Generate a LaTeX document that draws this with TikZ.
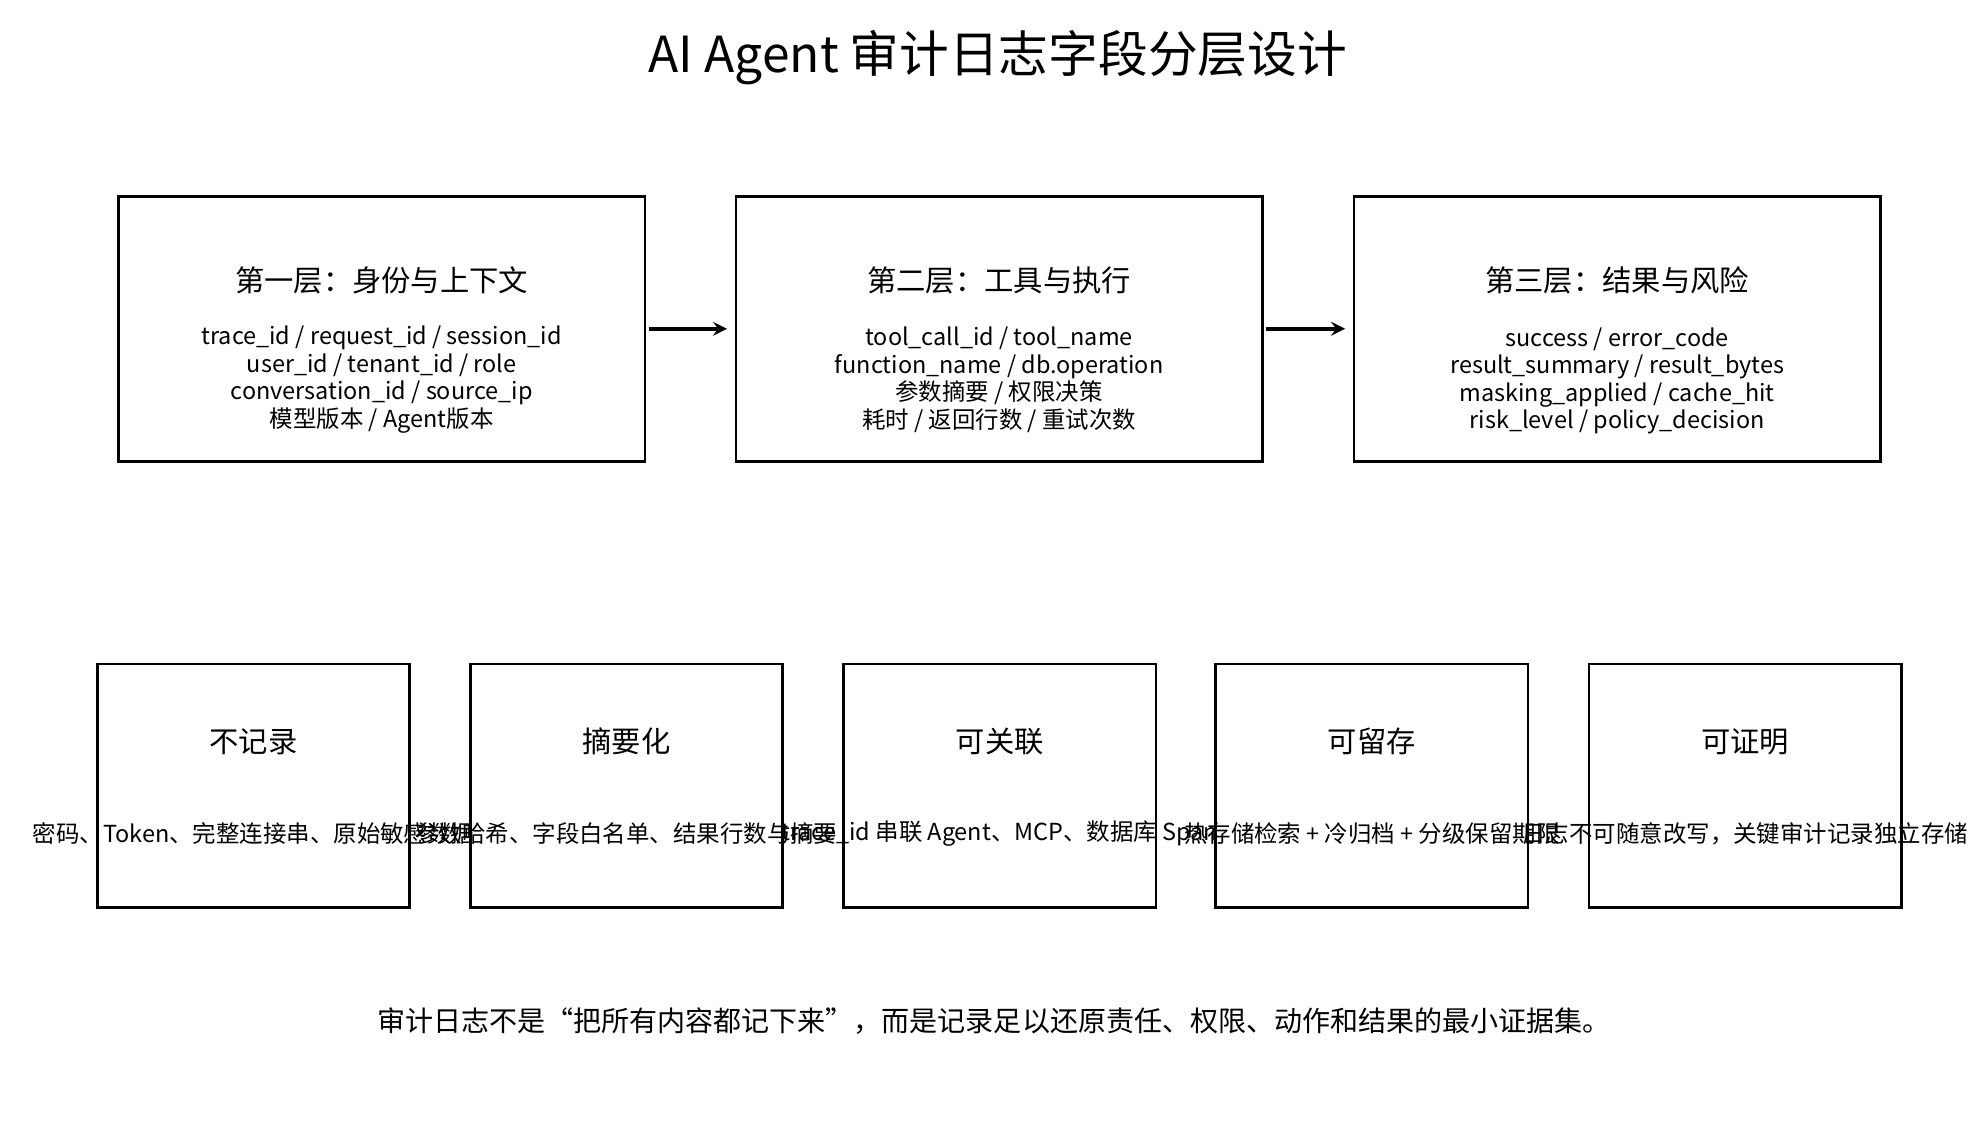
\documentclass[tikz,border=0pt]{standalone}
\usepackage{fontspec}
\setmainfont{Noto Sans CJK SC}
\usetikzlibrary{positioning}
\tikzset{>=stealth}
\tikzset{
  layer/.style={draw, line width=1pt, minimum width=206.5pt, minimum height=104pt},
  rule/.style={draw, line width=1pt, minimum width=122.5pt, minimum height=95.5pt},
  head/.style={font=\fontsize{11.5}{13}\selectfont},
  body/.style={font=\fontsize{9.2}{10.8}\selectfont, align=center},
  link/.style={->, line width=1.4pt}
}
\begin{document}
\begin{tikzpicture}[x=0.5pt,y=-0.5pt]
				\useasboundingbox (0,0) rectangle (1560,898);
				\node[font=\fontsize{19.5}{22}\selectfont] (title) at (783,45) {AI Agent 审计日志字段分层设计};
				
				% layers
				\node[layer] (l1) at (299.5,258) {};
				\node[layer] (l2) at (784,258) {};
				\node[layer] (l3) at (1269,258) {};
				\node[head] (h1) at (299.5,220) {第一层：身份与上下文};
				\node[head] (h2) at (784,220) {第二层：工具与执行};
				\node[head] (h3) at (1269,220) {第三层：结果与风险};
				\node[body] (b1) at (299.5,298) {trace\_id / request\_id / session\_id\\user\_id / tenant\_id / role\\conversation\_id / source\_ip\\模型版本 / Agent版本};
				\node[body] (b2) at (784,298) {tool\_call\_id / tool\_name\\function\_name / db.operation\\参数摘要 / 权限决策\\耗时 / 返回行数 / 重试次数};
				\node[body] (b3) at (1269,299) {success / error\_code\\result\_summary / result\_bytes\\masking\_applied / cache\_hit\\risk\_level / policy\_decision};
				\draw[link] ([xshift=1pt]l1.east) -- ([xshift=-3pt]l2.west);
				\draw[link] ([xshift=1pt]l2.east) -- ([xshift=-3pt]l3.west);
				
				% rules
				\foreach \n/\x/\t/\d in {r1/199/不记录/密码、Token、完整连接串、原始敏感数据,
				  r2/491.5/摘要化/参数哈希、字段白名单、结果行数与摘要,
				  r3/784.5/可关联/trace\_id 串联 Agent、MCP、数据库 Span,
				  r4/1076.5/可留存/热存储检索 + 冷归档 + 分级保留期限,
				  r5/1369.5/可证明/日志不可随意改写，关键审计记录独立存储}{
				  \node[rule] (\n) at (\x,616.5) {};
				  \node[head] (\n h) at (\x,582) {\t};
				  \node[body] (\n d) at (\x,654) {\d};
				}
				
				\node[body, font=\fontsize{11}{13}\selectfont] (note) at (780,801) {审计日志不是“把所有内容都记下来”，而是记录足以还原责任、权限、动作和结果的最小证据集。};
\end{tikzpicture}
\end{document}
